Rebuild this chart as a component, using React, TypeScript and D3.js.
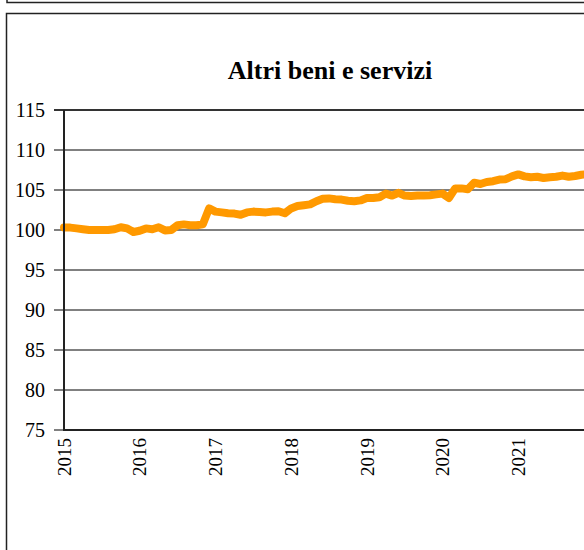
import * as d3 from "d3";

const title = "Altri beni e servizi";
const startYear = 2015;
const yearTicks = [2015, 2016, 2017, 2018, 2019, 2020, 2021];
const valueTicks = [75, 80, 85, 90, 95, 100, 105, 110, 115];

// monthly index values, Jan 2015 onwards
const monthlyValues = [
  100.3, 100.3, 100.2, 100.1, 100.0, 100.0, 100.0, 100.0, 100.1, 100.35, 100.2, 99.75,
  99.9, 100.2, 100.1, 100.35, 99.95, 100.0, 100.6, 100.7, 100.6, 100.6, 100.7, 102.7,
  102.3, 102.2, 102.1, 102.05, 101.9, 102.2, 102.3, 102.25, 102.2, 102.3, 102.35, 102.1,
  102.7, 103.0, 103.1, 103.2, 103.6, 103.9, 103.95, 103.85, 103.8, 103.65, 103.6, 103.7,
  104.0, 104.0, 104.1, 104.55, 104.3, 104.65, 104.3, 104.25, 104.3, 104.3, 104.35, 104.45,
  104.55, 104.0, 105.2, 105.2, 105.1, 105.9, 105.75, 106.0, 106.1, 106.3, 106.35, 106.7,
  106.95, 106.7, 106.6, 106.65, 106.5, 106.6, 106.65, 106.8, 106.65, 106.75, 106.9, 107.0,
];

const W = 584;
const H = 550;
const font = "Liberation Serif, Times New Roman, Times, serif";

export default function App() {
  const x = d3.scaleLinear().domain([2015, 2022]).range([64, 594]);
  const y = d3.scaleLinear().domain([75, 115]).range([430, 110]);

  const points = monthlyValues.map((v, i) => ({ t: startYear + i / 12, v }));
  const line = d3
    .line<{ t: number; v: number }>()
    .x((d) => x(d.t))
    .y((d) => y(d.v));

  const left = x.range()[0];
  const right = x.range()[1];

  return (
    <div style={{ position: "absolute", left: 0, top: 0 }}>
      <svg width={W} height={H} style={{ display: "block", fontFamily: font }}>
        <rect x={0} y={0} width={W} height={H} fill="#fff" />
        {/* frames of the two panels */}
        <rect x={7} y={-20} width={W + 20} height={22.5} fill="none" stroke="#222" strokeWidth={1.5} />
        <rect x={6.5} y={13.5} width={W + 20} height={H + 20} fill="none" stroke="#222" strokeWidth={1.5} />

        <text x={330} y={79} textAnchor="middle" fontWeight="bold" fontSize={26} fill="#000">
          {title}
        </text>

        {valueTicks.map((t) => (
          <g key={t}>
            <line
              x1={54}
              x2={right}
              y1={y(t)}
              y2={y(t)}
              stroke={t === 115 ? "#333" : "#808080"}
              strokeWidth={2}
            />
            <text x={45} y={y(t)} dy="0.35em" textAnchor="end" fontSize={20} fill="#000">
              {t}
            </text>
          </g>
        ))}

        <path
          d={line(points) ?? ""}
          fill="none"
          stroke="#ff9900"
          strokeWidth={8}
          strokeLinejoin="round"
          strokeLinecap="round"
        />

        <line x1={left} x2={left} y1={y(115)} y2={y(75)} stroke="#222" strokeWidth={2} />
        <line x1={left - 1} x2={right} y1={y(75)} y2={y(75)} stroke="#222" strokeWidth={2} />

        {yearTicks.map((yr) => (
          <text
            key={yr}
            transform={`translate(${x(yr)},${y(75) + 8}) rotate(-90)`}
            dy="0.35em"
            textAnchor="end"
            fontSize={19}
            fill="#000"
          >
            {yr}
          </text>
        ))}
      </svg>
    </div>
  );
}
